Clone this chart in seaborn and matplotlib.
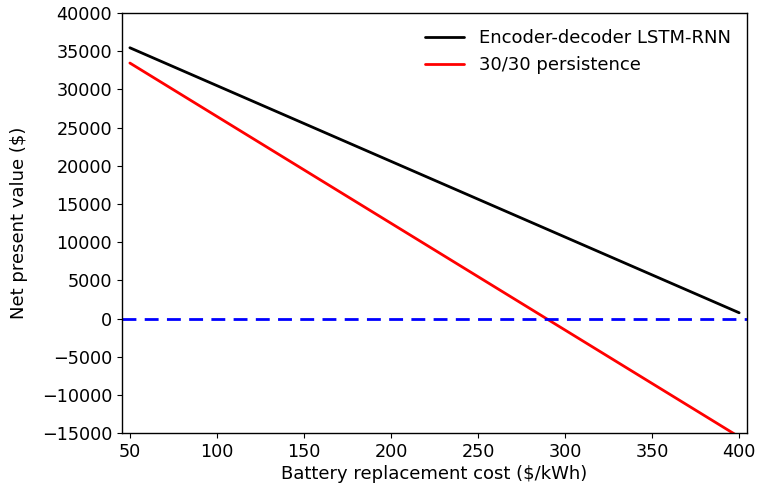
import matplotlib
matplotlib.use("Agg")
import matplotlib.pyplot as plt
import seaborn as sns
import pandas as pd

cost = [50, 400]
lstm_npv = [35450, 750]
persist_npv = [33450, -15500]
labels = ["Encoder-decoder LSTM-RNN", "30/30 persistence"]

sns.set_style("ticks")
plt.rcParams['font.family'] = ['DejaVu Sans']
plt.rcParams['font.size'] = 13
for k in ["text.color", "axes.labelcolor", "xtick.color", "ytick.color"]:
    plt.rcParams[k] = "black"

df = pd.DataFrame({
    "cost": cost * 2,
    "npv": lstm_npv + persist_npv,
    "model": [labels[0]] * len(cost) + [labels[1]] * len(cost),
})

fig = plt.figure(figsize=(7.57, 4.91), dpi=100)
ax = fig.add_axes([0.161, 0.118, 0.826, 0.8555])
sns.lineplot(data=df, x="cost", y="npv", hue="model", palette=["black", "red"],
             linewidth=2, ax=ax)
ax.axhline(0, color="blue", linestyle="--", linewidth=2, dashes=(5, 3))
ax.set_xlim(45.4, 404.6)
ax.set_ylim(-15000, 40000)
ax.set_yticks(range(-15000, 40001, 5000))
ax.set_xticks(range(50, 401, 50))
ax.set_xlabel("Battery replacement cost ($/kWh)", fontsize=13, labelpad=3)
ax.set_ylabel("Net present value ($)", fontsize=13, labelpad=10)
ax.tick_params(labelsize=12.7, colors="black")
for s in ax.spines.values():
    s.set_color("black")
    s.set_linewidth(1)
ax.legend(title=None, frameon=False, loc="upper right", fontsize=13,
          handlelength=2.2)
fig.savefig("out.png", dpi=100)
